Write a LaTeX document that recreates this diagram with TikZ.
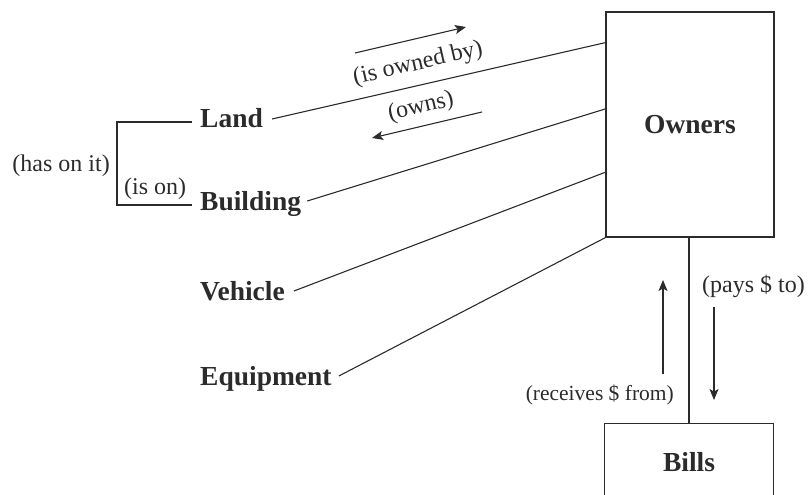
\documentclass[tikz,border=0pt]{standalone}
\usepackage{fontspec}
\setmainfont{Liberation Serif}
\usetikzlibrary{arrows.meta,calc}
\definecolor{ink}{HTML}{2B2B2B}
\begin{document}
\begin{tikzpicture}[x=1pt,y=-1pt,
  lbl/.style={font=\fontsize{24}{28}\selectfont, text=ink, inner sep=0pt},
  ent/.style={font=\bfseries\fontsize{27.5}{32}\selectfont, text=ink, inner sep=0pt, text height=18pt, text depth=0pt},
  box/.style={ent, line width=1.2pt, minimum width=168pt},
  link/.style={draw=ink, line width=1.1pt},
  arr/.style={draw=ink, line width=1.1pt, -{Stealth[length=11pt,width=9pt,inset=2.5pt]}}]
\useasboundingbox (0,0) rectangle (809,495);

% entities
\node[ent, anchor=base west] (land) at (200,128) {Land};
\node[ent, anchor=base west] (building) at (200,210) {Building};
\node[ent, anchor=base west] (vehicle) at (200,300) {Vehicle};
\node[ent, anchor=base west] (equipment) at (200,385) {Equipment};
\node[box, draw=ink, minimum height=225pt] (owners) at (690,124.5) {Owners};
\node[box, draw=none, minimum height=76pt] (bills) at (689,462) {Bills};
\draw[link, line width=1.2pt] (bills.south west) -- (bills.north west) -- (bills.north east) -- (bills.south east);

% connectors to owners
\draw[link] ([xshift=9pt]land.east) -- ($(owners.north west)!0.138!(owners.south west)$);
\draw[link] ([xshift=6pt]building.east) -- ($(owners.north west)!0.431!(owners.south west)$);
\draw[link] ([xshift=9pt]vehicle.east) -- ($(owners.north west)!0.711!(owners.south west)$);
\draw[link] ([xshift=7pt]equipment.east) -- (owners.south west);

% bracket land-building
\coordinate (lb) at ($(land.base west)+(-8,-6)$);
\coordinate (bb) at ($(building.base west)+(-8,-5)$);
\draw[link] (lb) -- ++(-75,0) |- (bb);
\node[lbl, anchor=base east] (hason) at (110,171) {(has on it)};
\node[lbl, anchor=base west] (ison) at (124,194) {(is on)};

% owners - bills
\draw[link] (owners.south -| bills.north) -- (bills.north);
\node[lbl, anchor=base west] (pays) at (702,292) {(pays \$ to)};
\node[lbl, font=\fontsize{21.5}{25}\selectfont, anchor=base east] (receives) at (674,400) {(receives \$ from)};
\coordinate (upa) at (663,374);
\coordinate (upb) at (663,280);
\coordinate (dna) at (714,307);
\coordinate (dnb) at (714,400);
\draw[arr] (upa) -- (upb);
\draw[arr] (dna) -- (dnb);

% owned-by / owns
\node[lbl, rotate=13] (ownedby) at (418,64) {(is owned by)};
\node[lbl, rotate=13] (owns) at (421,107) {(owns)};
\coordinate (oba) at (355,53);
\coordinate (obb) at (466,27);
\coordinate (owa) at (482,112);
\coordinate (owb) at (372,138);
\draw[arr] (oba) -- (obb);
\draw[arr] (owa) -- (owb);
\end{tikzpicture}
\end{document}
